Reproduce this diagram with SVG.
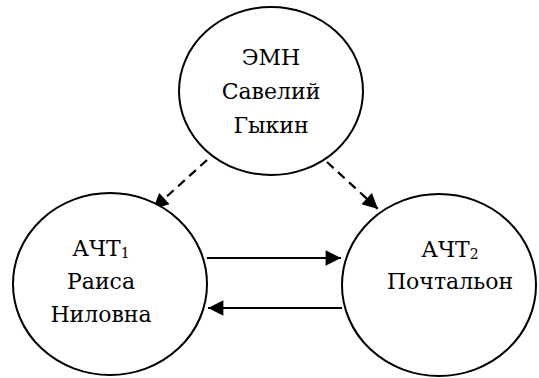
<svg xmlns="http://www.w3.org/2000/svg" width="539" height="378" viewBox="0 0 539 378">
<style>
.n{fill:#fff;stroke:#000;stroke-width:2}
.t{font-family:'DejaVu Serif',serif;font-size:22px;fill:#000;text-anchor:middle}
.c{stroke:#000;stroke-width:2.2;fill:none}
.d{stroke-dasharray:9,6}
</style>
<defs>
<marker id="ah" viewBox="0 0 10 10" refX="10" refY="5" markerWidth="7.5" markerHeight="7" markerUnits="strokeWidth" orient="auto">
<path d="M0,0L10,5L0,10z" fill="#000"/>
</marker>
</defs>
<rect width="539" height="378" fill="#fff"/>
<g id="connectors">
<line class="c d" x1="207" y1="160" x2="153" y2="209" marker-end="url(#ah)"/>
<line class="c d" x1="327" y1="162" x2="378" y2="209" marker-end="url(#ah)"/>
<line class="c" x1="207" y1="258" x2="341" y2="258" marker-end="url(#ah)"/>
<line class="c" x1="342" y1="308" x2="208" y2="308" marker-end="url(#ah)"/>
</g>
<g id="emn">
<ellipse class="n" cx="271" cy="91" rx="92" ry="84"/>
<text class="t" x="271" y="65">ЭМН</text>
<text class="t" x="271" y="99">Савелий</text>
<text class="t" x="271" y="133">Гыкин</text>
</g>
<g id="acht1">
<ellipse class="n" cx="110" cy="284" rx="97" ry="91"/>
<text class="t" x="101" y="256">АЧТ<tspan font-size="14" dy="2">1</tspan></text>
<text class="t" x="101" y="289">Раиса</text>
<text class="t" x="101" y="322">Ниловна</text>
</g>
<g id="acht2">
<ellipse class="n" cx="439" cy="285" rx="97" ry="91"/>
<text class="t" x="450" y="257">АЧТ<tspan font-size="14" dy="2">2</tspan></text>
<text class="t" x="450" y="289">Почтальон</text>
</g>
</svg>
